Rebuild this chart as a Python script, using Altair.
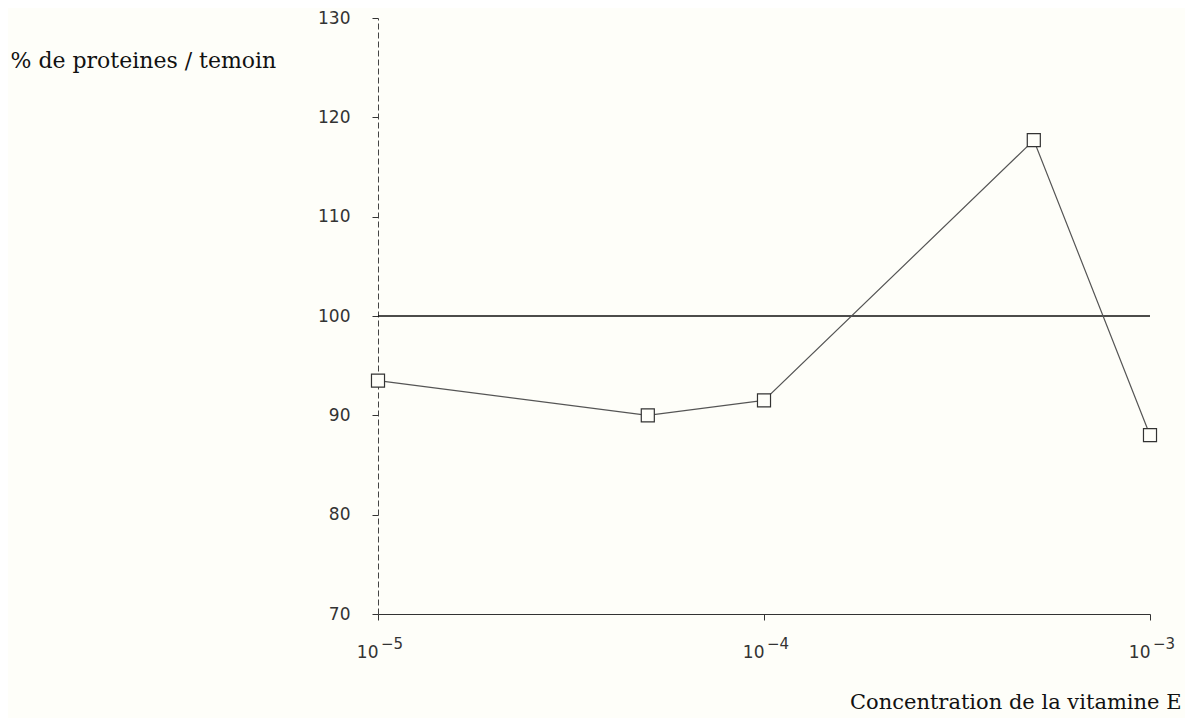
import altair as alt
import pandas as pd

# Data
concentrations = [1e-5, 5e-5, 1e-4, 5e-4, 1e-3]
pct_temoin = [93.5, 90.0, 91.5, 117.7, 88.0]
reference_level = [100]

x_tick_values = [1e-5, 1e-4, 1e-3]
x_tick_base = "10"
x_tick_exponents = ["−5", "−4", "−3"]
y_tick_values = [70, 80, 90, 100, 110, 120, 130]

y_title = "% de proteines / temoin"
x_title = "Concentration de la vitamine E"

df = pd.DataFrame({"conc": concentrations, "pct": pct_temoin})
ref_df = pd.DataFrame({"pct": reference_level})
exp_df = pd.DataFrame({"conc": x_tick_values, "exp": x_tick_exponents})

PLOT_W = 772
PLOT_H = 596
BG = "#fefef9"

x_scale = alt.Scale(type="log", domain=[1e-5, 1e-3], nice=False)
y_scale = alt.Scale(domain=[70, 130], nice=False, zero=False)

x_axis = alt.Axis(
    values=x_tick_values,
    labelExpr=f"'{x_tick_base}'",
    labelAlign="right",
    labelBaseline="top",
    title=x_title,
    titleFont="DejaVu Serif",
    titleFontSize=21,
    titleFontWeight="normal",
    titleColor="#111",
    titleAngle=0,
    titleAlign="right",
    titleBaseline="middle",
    titleX=803,
    titleY=88,
    labelFont="DejaVu Sans",
    labelFontSize=17,
    labelColor="#333",
    labelPadding=24,
    labelOverlap=False,
    tickSize=6,
    tickColor="#333",
    domainColor="#333",
    domainWidth=1.2,
    grid=False,
)

y_axis = alt.Axis(
    values=y_tick_values,
    title=y_title,
    titleFont="DejaVu Serif",
    titleFontSize=22,
    titleFontWeight="normal",
    titleColor="#111",
    titleAngle=0,
    titleAlign="left",
    titleBaseline="middle",
    titleX=-368,
    titleY=42,
    labelFont="DejaVu Sans",
    labelFontSize=17,
    labelColor="#333",
    labelPadding=22,
    tickSize=6,
    tickColor="#333",
    domainColor="#444",
    domainDash=[6, 3],
    domainWidth=1,
    grid=False,
)

base = alt.Chart(df)

line = base.mark_line(color="#555", strokeWidth=1.2).encode(
    x=alt.X("conc:Q", scale=x_scale, axis=x_axis),
    y=alt.Y("pct:Q", scale=y_scale, axis=y_axis),
)

points = base.mark_point(
    shape="square", size=170, filled=True, fill=BG, stroke="#333", strokeWidth=1.2, opacity=1
).encode(
    x=alt.X("conc:Q", scale=x_scale),
    y=alt.Y("pct:Q", scale=y_scale),
)

ref = alt.Chart(ref_df).mark_rule(color="#111", strokeWidth=1.5).encode(
    y=alt.Y("pct:Q", scale=y_scale)
)

exponents = alt.Chart(exp_df).mark_text(
    align="left", baseline="middle", dx=3, font="DejaVu Sans", fontSize=15, color="#333"
).encode(
    x=alt.X("conc:Q", scale=x_scale),
    y=alt.value(PLOT_H + 30),
    text="exp:N",
)

chart = (
    alt.layer(ref, line, points, exponents)
    .properties(
        width=PLOT_W,
        height=PLOT_H,
        autosize=alt.AutoSizeParams(type="none"),
        padding={"left": 370, "top": 10, "right": 35, "bottom": 104},
        background=BG,
    )
    .configure_view(stroke=None)
)

chart.save("out.html", embed_options={"renderer": "svg", "actions": False})
